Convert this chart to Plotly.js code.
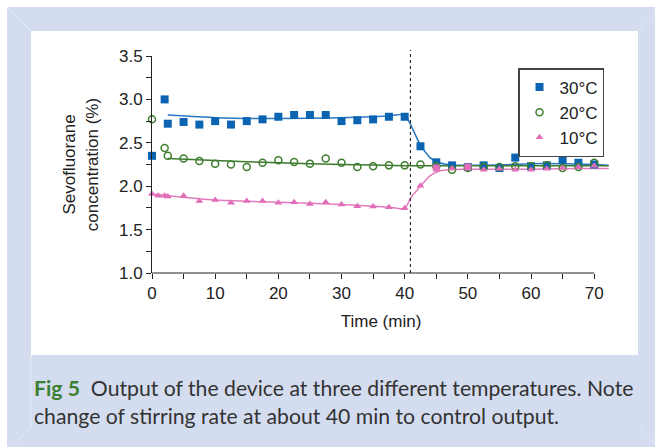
<!DOCTYPE html>
<html>
<head>
<meta charset="utf-8">
<script src="https://cdn.plot.ly/plotly-3.0.1.min.js"></script>
<style>html,body{margin:0;padding:0;background:#fff;}#chart{width:655px;height:447px;}</style>
</head>
<body>
<div id="chart"></div>
<script>
// ---------------- data ----------------
const time30 = [0, 2, 2.5, 5, 7.5, 10, 12.5, 15, 17.5, 20, 22.5, 25, 27.5, 30, 32.5, 35, 37.5, 40, 42.5, 45, 47.5, 50, 52.5, 55, 57.5, 60, 62.5, 65, 67.5, 70];
const conc30 = [2.35, 3.00, 2.72, 2.74, 2.71, 2.75, 2.71, 2.75, 2.77, 2.80, 2.82, 2.82, 2.82, 2.75, 2.76, 2.77, 2.80, 2.80, 2.46, 2.275, 2.24, 2.22, 2.24, 2.21, 2.33, 2.23, 2.24, 2.30, 2.27, 2.25];

const time20 = [0, 2, 2.5, 5, 7.5, 10, 12.5, 15, 17.5, 20, 22.5, 25, 27.5, 30, 32.5, 35, 37.5, 40, 42.5, 45, 47.5, 50, 52.5, 55, 57.5, 60, 62.5, 65, 67.5, 70];
const conc20 = [2.77, 2.44, 2.35, 2.32, 2.29, 2.26, 2.25, 2.22, 2.27, 2.30, 2.28, 2.26, 2.32, 2.27, 2.22, 2.23, 2.24, 2.24, 2.25, 2.23, 2.19, 2.21, 2.22, 2.22, 2.23, 2.23, 2.24, 2.21, 2.22, 2.27];

const time10 = [0, 1, 2, 2.5, 5, 7.5, 10, 12.5, 15, 17.5, 20, 22.5, 25, 27.5, 30, 32.5, 35, 37.5, 40, 42.5, 45, 47.5, 50, 52.5, 55, 57.5, 60, 62.5, 65, 67.5, 70];
const conc10 = [1.91, 1.89, 1.89, 1.88, 1.89, 1.83, 1.84, 1.81, 1.83, 1.83, 1.81, 1.815, 1.795, 1.815, 1.79, 1.77, 1.765, 1.757, 1.745, 2.005, 2.21, 2.205, 2.22, 2.19, 2.20, 2.19, 2.19, 2.20, 2.21, 2.22, 2.235];
const squareTimes10 = [45, 50];   // points drawn as squares in the original

// fitted curves
const fitTime30 = [2.5, 10, 20, 30, 35, 38, 40, 41, 42.5, 44, 45.5, 47.5, 50, 55, 60, 65, 70, 72.3];
const fitConc30 = [2.82, 2.79, 2.78, 2.79, 2.80, 2.815, 2.825, 2.70, 2.47, 2.33, 2.27, 2.245, 2.24, 2.245, 2.26, 2.26, 2.25, 2.24];
const fitTime20 = [2.5, 10, 20, 30, 40, 50, 60, 72.3];
const fitConc20 = [2.32, 2.295, 2.27, 2.25, 2.237, 2.235, 2.235, 2.235];
const fitTime10 = [0, 10, 20, 30, 35, 38, 40, 41, 42.5, 44, 45.5, 47.5, 50, 55, 60, 65, 70, 72.3];
const fitConc10 = [1.91, 1.84, 1.815, 1.79, 1.77, 1.755, 1.742, 1.87, 2.00, 2.12, 2.175, 2.192, 2.195, 2.195, 2.195, 2.20, 2.205, 2.205];

const seriesNames = ['30°C', '20°C', '10°C'];
const changeTime = 40.9;            // dotted line: change of stirring rate
const xTickVals = [0, 10, 20, 30, 40, 50, 60, 70];
const xRange = [0, 72.5];
const yRange = [1.0, 3.5];

// ---------------- layout helpers ----------------
const W = 655, H = 447;
const M = {l: 152, r: 45, t: 56, b: 174};
const pw = W - M.l - M.r, ph = H - M.t - M.b;
const px2x = p => (p - M.l) / pw;
const py2y = p => (H - M.b - p) / ph;
const dx2paper = v => (v - xRange[0]) / (xRange[1] - xRange[0]);

const BLUE = '#0b64b1', GREEN = '#3f7f2f', PINK = '#e26db8';
const BLUE_L = '#2a78c4', GREEN_L = '#3c7a2e', PINK_L = '#e37cbd';
const AX = '#222';
const FONT = 'Liberation Sans, Arial, Helvetica, sans-serif';

const traces = [
  {x: fitTime30, y: fitConc30, mode: 'lines', line: {color: BLUE_L, width: 1.5, shape: 'spline', smoothing: 0.5}, showlegend: false, hoverinfo: 'skip'},
  {x: fitTime20, y: fitConc20, mode: 'lines', line: {color: GREEN_L, width: 1.5, shape: 'spline', smoothing: 0.5}, showlegend: false, hoverinfo: 'skip'},
  {x: fitTime10, y: fitConc10, mode: 'lines', line: {color: PINK_L, width: 1.5, shape: 'spline', smoothing: 0.5}, showlegend: false, hoverinfo: 'skip'},
  {x: time30, y: conc30, name: seriesNames[0], mode: 'markers', cliponaxis: false,
   marker: {symbol: 'square', size: 8, color: BLUE}},
  {x: time20, y: conc20, name: seriesNames[1], mode: 'markers', cliponaxis: false,
   marker: {symbol: 'circle-open', size: 7, color: GREEN, line: {width: 1.5, color: GREEN}}},
  {x: time10, y: conc10, name: seriesNames[2], mode: 'markers', cliponaxis: false,
   marker: {symbol: time10.map(t => squareTimes10.includes(t) ? 'square' : 'triangle-up'), size: 7, color: PINK}}
];

const LB = '#d4ddef', BEVEL = '#e4eaf5';
const shapes = [
  {type: 'rect', xref: 'paper', yref: 'paper', layer: 'below', x0: px2x(7), x1: px2x(656), y0: py2y(448), y1: py2y(7), fillcolor: LB, line: {width: 0}},
  {type: 'rect', xref: 'paper', yref: 'paper', layer: 'below', x0: px2x(31), x1: px2x(638), y0: py2y(355), y1: py2y(31), fillcolor: '#ffffff', line: {width: 0}},
  {type: 'line', xref: 'paper', yref: 'paper', layer: 'below', x0: px2x(7), y0: py2y(7), x1: px2x(31), y1: py2y(31), line: {color: BEVEL, width: 1}},
  {type: 'line', xref: 'paper', yref: 'paper', layer: 'below', x0: px2x(655), y0: py2y(14), x1: px2x(638), y1: py2y(31), line: {color: BEVEL, width: 1}},
  {type: 'line', xref: 'paper', yref: 'paper', layer: 'below', x0: px2x(31), y0: py2y(355), x1: px2x(31), y1: py2y(427), line: {color: BEVEL, width: 1}},
  {type: 'line', xref: 'paper', yref: 'paper', layer: 'below', x0: px2x(31), y0: py2y(427), x1: px2x(11), y1: py2y(447), line: {color: BEVEL, width: 1}},
  {type: 'line', xref: 'paper', yref: 'paper', layer: 'below', x0: px2x(638), y0: py2y(427), x1: px2x(655), y1: py2y(444), line: {color: BEVEL, width: 1}},
  // x axis line from 0 to 70
  {type: 'line', xref: 'paper', yref: 'paper', layer: 'above', x0: dx2paper(xTickVals[0]), x1: dx2paper(xTickVals[xTickVals.length - 1]), y0: 0, y1: 0, line: {color: AX, width: 1}},
  // dotted vertical line
  {type: 'line', xref: 'paper', yref: 'paper', layer: 'above', x0: dx2paper(changeTime), x1: dx2paper(changeTime), y0: 0, y1: py2y(50), line: {color: '#111', width: 1, dash: 'dot'}}
];

const layout = {
  width: W, height: H,
  margin: M,
  paper_bgcolor: '#ffffff',
  plot_bgcolor: 'rgba(0,0,0,0)',
  font: {family: FONT, color: AX, size: 17},
  showlegend: true,
  legend: {
    x: px2x(604), y: py2y(68), xanchor: 'right', yanchor: 'top',
    bgcolor: '#ffffff', bordercolor: '#444', borderwidth: 1.5,
    font: {family: FONT, size: 17, color: AX}, itemwidth: 30, tracegroupgap: 0
  },
  xaxis: {
    range: xRange, tickvals: xTickVals, ticks: 'outside', ticklen: 5, tickwidth: 1, tickcolor: AX,
    showline: false, showgrid: false, zeroline: false,
    tickfont: {family: FONT, size: 17, color: AX},
    minor: {dtick: 5, tick0: 0, ticks: 'outside', ticklen: 5, tickwidth: 1, tickcolor: AX, showgrid: false},
    title: {text: 'Time (min)', font: {family: FONT, size: 17, color: AX}, standoff: 12}
  },
  yaxis: {
    range: yRange, dtick: 0.5, tick0: 1, tickformat: '.1f', ticks: 'outside', ticklen: 5, tickwidth: 1, tickcolor: AX,
    showline: true, linecolor: AX, linewidth: 1, showgrid: false, zeroline: false,
    tickfont: {family: FONT, size: 17, color: AX},
    minor: {dtick: 0.25, tick0: 1, ticks: 'outside', ticklen: 5, tickwidth: 1, tickcolor: AX, showgrid: false},
    title: {text: 'Sevofluorane<br>concentration (%)', font: {family: FONT, size: 17, color: AX}, standoff: 16}
  },
  shapes: shapes,
  annotations: [{
    xref: 'paper', yref: 'paper', x: px2x(32), y: py2y(373), xanchor: 'left', yanchor: 'top', align: 'left', showarrow: false,
    text: '<b><span style="color:#3d7f33">Fig 5</span></b>\u00a0 Output of the device at three different temperatures. Note<br>change of stirring rate at about 40 min to control output.',
    font: {family: 'Lato, Noto Sans, sans-serif', size: 21.2, color: '#333'}
  }]
};

Plotly.newPlot('chart', traces, layout, {displayModeBar: false, staticPlot: true});
</script>
</body>
</html>
